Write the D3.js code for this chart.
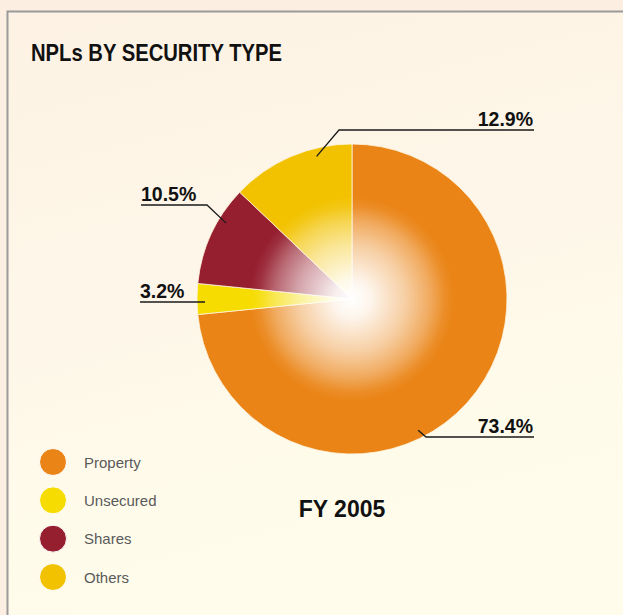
<!DOCTYPE html>
<html>
<head>
<meta charset="utf-8">
<script src="https://cdn.jsdelivr.net/npm/d3@7"></script>
<style>
  html, body { margin: 0; padding: 0; background: #fdf0e2; }
  svg { display: block; }
</style>
</head>
<body>
<svg id="chart" width="623" height="615"></svg>
<script>
// NPLs by security type, FY 2005 (shares of total, %)
const categories = ["Property", "Unsecured", "Shares", "Others"];
const shares = [73.4, 3.2, 10.5, 12.9];
const valueLabels = ["73.4%", "3.2%", "10.5%", "12.9%"];
const colors = ["#ea8416", "#f6dc00", "#961f2f", "#f2c200"];
const chartTitle = "NPLs BY SECURITY TYPE";
const yearLabel = "FY 2005";

// Label callouts: where in the slice the leader starts (fraction of the slice),
// the elbow of the leader and the extent of the underline.
const callouts = [
  { frac: 0.58, elbow: [426, 437], lineEnd: 534, side: "right" },
  { frac: 0.40, elbow: null, y: 302, lineStart: 140, side: "left" },
  { frac: 0.67, elbow: [207, 205], lineStart: 141, side: "left" },
  { frac: 0.70, elbow: [339, 130], lineEnd: 534, side: "right" }
];

const svg = d3.select("#chart");
const W = 623, H = 615;
const cx = 352, cy = 299, R = 155;

const defs = svg.append("defs");

// panel background
const bg = defs.append("linearGradient").attr("id", "panelBg")
  .attr("x1", 0).attr("y1", 0).attr("x2", 0.25).attr("y2", 1);
bg.append("stop").attr("offset", 0).attr("stop-color", "#fdf2e4");
bg.append("stop").attr("offset", 0.55).attr("stop-color", "#fef7e9");
bg.append("stop").attr("offset", 0.8).attr("stop-color", "#fffbeb");
bg.append("stop").attr("offset", 1).attr("stop-color", "#fffcec");

svg.append("rect").attr("width", W).attr("height", H).attr("fill", "#fcefe1");
svg.append("rect").attr("x", 7).attr("y", 11).attr("width", W - 7).attr("height", H - 11)
  .attr("fill", "url(#panelBg)");

// frame lines (top and left)
svg.append("path")
  .attr("d", `M7.5,${H} V11.5 H${W}`)
  .attr("fill", "none").attr("stroke", "#9a9a9a").attr("stroke-width", 2);

// title
svg.append("text")
  .attr("x", 31).attr("y", 61)
  .attr("font-family", "Liberation Sans, Arial, Helvetica, sans-serif")
  .attr("font-weight", "bold").attr("font-size", 24.5)
  .attr("textLength", 251).attr("lengthAdjust", "spacingAndGlyphs")
  .attr("fill", "#111")
  .text(chartTitle);

// pie
const pie = d3.pie().sort(null).value(d => d)(shares);
const arc = d3.arc().innerRadius(0).outerRadius(R);

const g = svg.append("g").attr("transform", `translate(${cx},${cy})`);
g.selectAll("path.slice")
  .data(pie)
  .join("path")
  .attr("class", "slice")
  .attr("d", arc)
  .attr("fill", (d, i) => colors[i])
  .attr("stroke", "#fff3dc")
  .attr("stroke-width", 0.8);

// white glow in the centre of the pie
const glow = defs.append("radialGradient").attr("id", "glow")
  .attr("cx", 0.5).attr("cy", 0.5).attr("r", 0.5);
glow.append("stop").attr("offset", 0).attr("stop-color", "#fff").attr("stop-opacity", 1);
glow.append("stop").attr("offset", 0.12).attr("stop-color", "#fff").attr("stop-opacity", 0.92);
glow.append("stop").attr("offset", 0.35).attr("stop-color", "#fff").attr("stop-opacity", 0.6);
glow.append("stop").attr("offset", 0.5).attr("stop-color", "#fff").attr("stop-opacity", 0.32);
glow.append("stop").attr("offset", 0.6).attr("stop-color", "#fff").attr("stop-opacity", 0.08);
glow.append("stop").attr("offset", 0.66).attr("stop-color", "#fff").attr("stop-opacity", 0);
g.append("circle").attr("r", R).attr("fill", "url(#glow)");

// callouts
const labelFont = "Liberation Sans, Arial, Helvetica, sans-serif";
const lines = svg.append("g").attr("fill", "none")
  .attr("stroke", "#1a1a1a").attr("stroke-width", 1.3);
pie.forEach((d, i) => {
  const c = callouts[i];
  const a = d.startAngle + (d.endAngle - d.startAngle) * c.frac;
  const pr = R - 8;
  const px = cx + pr * Math.sin(a);
  const py = cy - pr * Math.cos(a);
  let pts, tx, ty, anchor;
  if (c.elbow) {
    if (c.side === "right") {
      pts = [[px, py], c.elbow, [c.lineEnd, c.elbow[1]]];
      tx = c.lineEnd - 1; anchor = "end";
    } else {
      pts = [[px, py], c.elbow, [c.lineStart, c.elbow[1]]];
      tx = c.lineStart; anchor = "start";
    }
    ty = c.elbow[1] - 4.5;
  } else {
    pts = [[cx + pr * Math.sin(a), c.y], [c.lineStart, c.y]];
    tx = c.lineStart; ty = c.y - 4.5; anchor = "start";
  }
  lines.append("path").attr("d", d3.line()(pts));
  svg.append("text")
    .attr("x", tx).attr("y", ty)
    .attr("text-anchor", anchor)
    .attr("font-family", labelFont).attr("font-weight", "bold")
    .attr("font-size", 19.5).attr("fill", "#111")
    .text(valueLabels[i]);
});

// year caption
svg.append("text")
  .attr("x", 342).attr("y", 517)
  .attr("text-anchor", "middle")
  .attr("font-family", labelFont).attr("font-weight", "bold")
  .attr("font-size", 23).attr("fill", "#111")
  .text(yearLabel);

// legend
const legendY = d3.scalePoint().domain(categories).range([462, 577]);
const legend = svg.append("g");
categories.forEach((name, i) => {
  legend.append("circle")
    .attr("cx", 53).attr("cy", legendY(name)).attr("r", 13.5)
    .attr("fill", colors[i]).attr("stroke", "#ffffff").attr("stroke-width", 1);
  legend.append("text")
    .attr("x", 84).attr("y", legendY(name) + 5.5)
    .attr("font-family", labelFont).attr("font-size", 15)
    .attr("fill", "#5a5a5a")
    .text(name);
});
</script>
</body>
</html>
